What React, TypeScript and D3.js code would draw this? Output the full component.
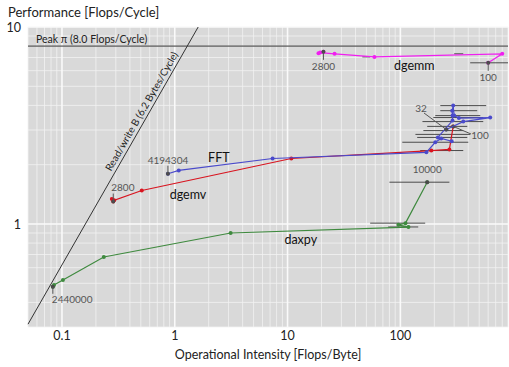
import React from 'react';
import * as d3 from 'd3';

// roofline parameters
const peakPerf = 8.0;
const bandwidth = 6.2;

// measured series: operational intensity (flops/byte) and performance (flops/cycle)
const dgemmOI = [20.8, 18.8, 19.5, 26.1, 58.9, 800, 601];
const dgemmPerf = [7.48, 7.35, 7.42, 7.31, 7.05, 7.31, 6.58];

const fftOI = [0.87, 1.085, 7.37, 170, 204, 230, 285, 215, 290, 290, 288, 294, 300, 330, 626, 361, 255];
const fftPerf = [1.8, 1.87, 2.15, 2.31, 2.6, 2.72, 2.63, 2.75, 3.35, 3.55, 3.76, 3.99, 3.55, 3.45, 3.47, 3.31, 3.02];

const dgemvOI = [0.285, 0.277, 0.29, 0.51, 10.8, 188, 272, 294];
const dgemvPerf = [1.3, 1.34, 1.32, 1.48, 2.15, 2.36, 2.39, 3.13];

const daxpyOI = [0.083, 0.085, 0.102, 0.235, 3.13, 118, 96, 111, 173];
const daxpyPerf = [0.48, 0.49, 0.52, 0.68, 0.9, 0.965, 0.99, 1.01, 1.63];

// horizontal spread of repeated measurements
const errPerf = [7.05, 7.31, 6.58, 3.99, 3.76, 3.55, 3.47, 3.31, 3.13, 2.98, 2.85, 2.75, 2.6, 2.36, 1.01, 0.966, 1.63];
const errLo = [46, 300, 416, 226, 226, 204, 196, 157, 173, 160, 136, 141, 104, 150, 54, 78, 80];
const errHi = [54, 361, 922, 577, 480, 511, 543, 543, 392, 361, 416, 392, 400, 361, 166, 144, 272];

const xTicks = [0.1, 1, 10, 100];
const xTickLabels = ['0.1', '1', '10', '100'];
const yTicks = [1, 10];
const yTickLabels = ['1', '10'];

const W = 509;
const H = 367;
const left = 28, right = 508, top = 27, bottom = 327;

const font = 'Lato, "Open Sans", sans-serif';

export default function App() {
  const x = d3.scaleLog().domain([0.05, 900]).range([left, right]);
  const y = d3.scaleLog().domain([0.3, 10]).range([bottom, top]);

  const minorX: number[] = [];
  for (const d of [0.01, 0.1, 1, 10, 100]) {
    for (let k = 2; k <= 9; k++) {
      const v = d * k;
      if (v >= 0.05 && v <= 900) minorX.push(v);
    }
  }
  const minorY: number[] = [];
  for (const d of [0.1, 1]) {
    for (let k = 2; k <= 9; k++) {
      const v = d * k;
      if (v >= 0.3 && v <= 10) minorY.push(v);
    }
  }

  const line = d3
    .line<[number, number]>()
    .x((d) => x(d[0]))
    .y((d) => y(d[1]));

  const zip = (a: number[], b: number[]) => a.map((v, i) => [v, b[i]] as [number, number]);

  const series = [
    { oi: dgemmOI, perf: dgemmPerf, color: '#f01ef0' },
    { oi: daxpyOI, perf: daxpyPerf, color: '#3f8a3f' },
    { oi: dgemvOI, perf: dgemvPerf, color: '#d8141f' },
    { oi: fftOI, perf: fftPerf, color: '#4a4acb' },
  ];

  // roof: bandwidth-bound slope
  const roofX0 = 0.05;
  const roofX1 = 10 / bandwidth;
  const angle = (Math.atan2(y(1) - y(10), x(10) - x(1)) * 180) / Math.PI;
  const labX = 0.29;
  const labPx = x(labX);
  const labPy = y(labX * bandwidth);

  const dark = '#4a4a4a';
  const labelColor = '#555';

  return (
    <svg width={W} height={H} style={{ position: 'absolute', left: 0, top: 0 }} fontFamily={font}>
      <rect x={0} y={0} width={W} height={H} fill="#fff" />
      <rect x={left} y={top} width={right - left} height={bottom - top} fill="#d9d9d9" />
      <g stroke="#f2f2f2">
        {minorX.map((v) => (
          <line key={'mx' + v} x1={x(v)} x2={x(v)} y1={top} y2={bottom} strokeWidth={0.8} />
        ))}
        {minorY.map((v) => (
          <line key={'my' + v} x1={left} x2={right} y1={y(v)} y2={y(v)} strokeWidth={0.8} />
        ))}
        {xTicks.map((v) => (
          <line key={'Mx' + v} x1={x(v)} x2={x(v)} y1={top} y2={bottom} strokeWidth={1.6} stroke="#fafafa" />
        ))}
        {yTicks.map((v) => (
          <line key={'My' + v} x1={left} x2={right} y1={y(v)} y2={y(v)} strokeWidth={1.6} stroke="#fafafa" />
        ))}
      </g>

      {/* roofs */}
      <line x1={left} x2={right} y1={y(peakPerf)} y2={y(peakPerf)} stroke="#333" strokeWidth={1} />
      <line
        x1={x(roofX0)}
        y1={y(roofX0 * bandwidth)}
        x2={x(roofX1)}
        y2={y(roofX1 * bandwidth)}
        stroke="#333"
        strokeWidth={1}
      />
      <text x={36} y={y(peakPerf) - 3.5} fontSize={10.5} fill="#222">
        Peak π ({peakPerf.toFixed(1)} Flops/Cycle)
      </text>
      <text
        transform={`translate(${labPx - 3},${labPy - 2}) rotate(${-angle})`}
        fontSize={10}
        fill="#222"
      >
        Read/write B ({bandwidth.toFixed(1)} Bytes/Cycle)
      </text>

      {/* spread bars */}
      <g stroke="#333" strokeWidth={1} opacity={0.85}>
        {errPerf.map((p, i) => (
          <line key={'e' + i} x1={x(errLo[i])} x2={Math.min(x(errHi[i]), right)} y1={y(p)} y2={y(p)} />
        ))}
      </g>

      {/* series */}
      {series.map((s, si) => {
        const pts = zip(s.oi, s.perf);
        return (
          <g key={si}>
            <path d={line(pts) || ''} fill="none" stroke={s.color} strokeWidth={1.2} />
            {pts.map((p, i) => (
              <circle key={i} cx={x(p[0])} cy={y(p[1])} r={2} fill={s.color} />
            ))}
            <circle cx={x(pts[0][0])} cy={y(pts[0][1])} r={2} fill={dark} />
            <circle cx={x(pts[pts.length - 1][0])} cy={y(pts[pts.length - 1][1])} r={2} fill={dark} />
          </g>
        );
      })}

      {/* size annotations */}
      <g fontSize={10} fill={labelColor}>
        <line x1={x(dgemmOI[0])} x2={x(dgemmOI[0])} y1={y(dgemmPerf[0])} y2={y(dgemmPerf[0]) + 8} stroke={labelColor} />
        <text x={x(dgemmOI[0])} y={y(dgemmPerf[0]) + 18} textAnchor="middle">2800</text>
        <line x1={x(dgemmOI[6])} x2={x(dgemmOI[6])} y1={y(dgemmPerf[6])} y2={y(dgemmPerf[6]) + 8} stroke={labelColor} />
        <text x={x(dgemmOI[6])} y={y(dgemmPerf[6]) + 18} textAnchor="middle">100</text>

        <line x1={x(fftOI[0])} x2={x(fftOI[0])} y1={y(fftPerf[0])} y2={y(fftPerf[0]) - 8} stroke={labelColor} />
        <text x={x(fftOI[0])} y={y(fftPerf[0]) - 10} textAnchor="middle">4194304</text>
        <line x1={x(fftOI[16])} x2={424} y1={y(fftPerf[16])} y2={113} stroke={labelColor} />
        <text x={421} y={112} textAnchor="middle">32</text>

        <line x1={x(dgemvOI[0])} x2={x(dgemvOI[0])} y1={y(dgemvPerf[0])} y2={y(dgemvPerf[0]) - 8} stroke={labelColor} />
        <text x={x(dgemvOI[0]) - 2} y={y(dgemvPerf[0]) - 11}>2800</text>
        <line x1={x(dgemvOI[7])} x2={471} y1={y(dgemvPerf[7])} y2={134} stroke={labelColor} />
        <text x={480} y={139} textAnchor="middle">100</text>

        <line x1={x(daxpyOI[0])} x2={x(daxpyOI[0])} y1={y(daxpyPerf[0])} y2={y(daxpyPerf[0]) + 7} stroke={labelColor} />
        <text x={x(daxpyOI[0]) - 1} y={y(daxpyPerf[0]) + 16}>2440000</text>
        <text x={x(daxpyOI[8])} y={y(daxpyPerf[8]) - 9} textAnchor="middle">10000</text>
      </g>

      {/* series names */}
      <g fontSize={12.5} fill="#111" textAnchor="middle">
        <text x={x(133)} y={y(6.05)}>dgemm</text>
        <text x={x(2.46)} y={y(2.07)}>FFT</text>
        <text x={x(1.31)} y={y(1.34)}>dgemv</text>
        <text x={x(13.1)} y={y(0.79)}>daxpy</text>
      </g>

      {/* axes */}
      <g fontSize={12.5} fill="#222" textAnchor="middle">
        {xTicks.map((v, i) => (
          <text key={v} x={x(v)} y={340}>{xTickLabels[i]}</text>
        ))}
      </g>
      <g fontSize={12.5} fill="#222" textAnchor="end">
        {yTicks.map((v, i) => (
          <text key={v} x={21} y={y(v) + 5}>{yTickLabels[i]}</text>
        ))}
      </g>
      <text x={8} y={17} fontSize={13} fill="#222">Performance [Flops/Cycle]</text>
      <text x={(left + right) / 2} y={359} fontSize={12.5} fill="#222" textAnchor="middle">
        Operational Intensity [Flops/Byte]
      </text>
    </svg>
  );
}
